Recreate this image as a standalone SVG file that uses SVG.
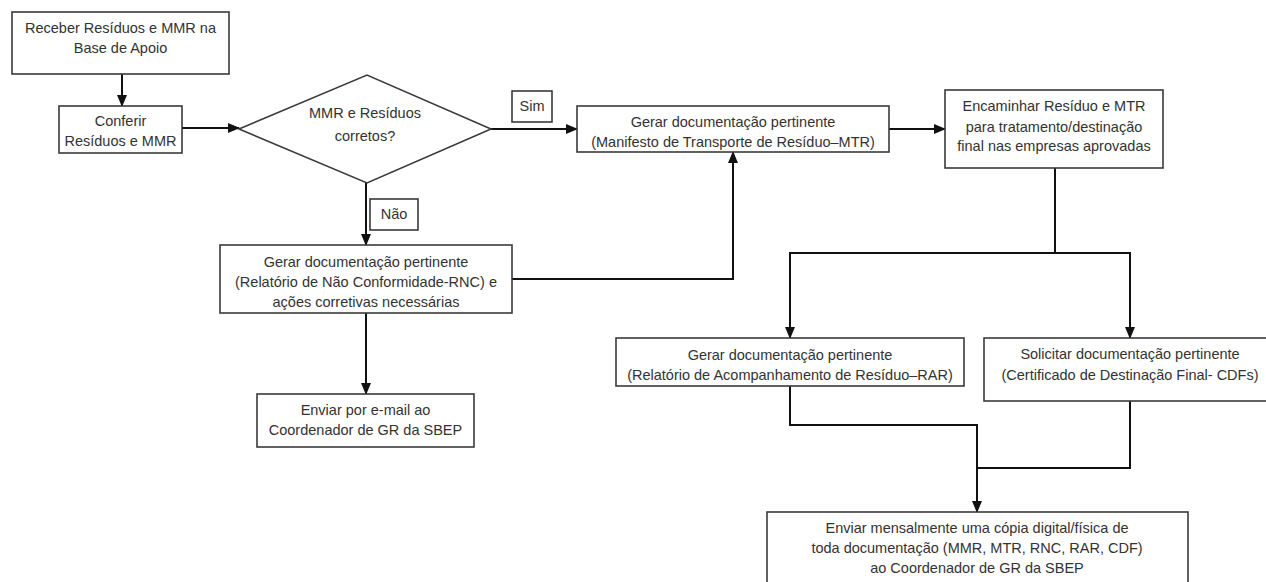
<svg xmlns="http://www.w3.org/2000/svg" width="1266" height="582" viewBox="0 0 1266 582">
<style>
.box{fill:#fff;stroke:#3a3a3a;stroke-width:1.6}
.t{font-family:"Liberation Sans",Arial,sans-serif;font-size:14.5px;fill:#333;text-anchor:middle}
.c{fill:none;stroke:#111;stroke-width:2}
</style>
<defs>
<marker id="ah" markerWidth="12" markerHeight="10" refX="11" refY="5" orient="auto" markerUnits="userSpaceOnUse">
<path d="M0,0 L12,5 L0,10 Z" fill="#111"/>
</marker>
</defs>
<rect width="1266" height="582" fill="#fff"/>
<g id="connectors">
<path class="c" d="M122,74 V106" marker-end="url(#ah)"/>
<path class="c" d="M182,128 H239" marker-end="url(#ah)"/>
<path class="c" d="M491,129 H577" marker-end="url(#ah)"/>
<path class="c" d="M889,129 H945" marker-end="url(#ah)"/>
<path class="c" d="M366,183 V245" marker-end="url(#ah)"/>
<path class="c" d="M512,279 H733 V152" marker-end="url(#ah)"/>
<path class="c" d="M366,313 V394" marker-end="url(#ah)"/>
<path class="c" d="M1055,168 V253"/>
<path class="c" d="M1055,253 H790 V338" marker-end="url(#ah)"/>
<path class="c" d="M1055,253 H1130 V338" marker-end="url(#ah)"/>
<path class="c" d="M790,386 V425 H977 V512" marker-end="url(#ah)"/>
<path class="c" d="M1130,401 V468 H977"/>
</g>
<g id="n-receber">
<rect class="box" x="12" y="12" width="217" height="62"/>
<text class="t" x="120.5" y="33">Receber Resíduos e MMR na</text>
<text class="t" x="120.5" y="53">Base de Apoio</text>
</g>
<g id="n-conferir">
<rect class="box" x="59" y="106" width="123" height="47"/>
<text class="t" x="120.5" y="126">Conferir</text>
<text class="t" x="120.5" y="146">Resíduos e MMR</text>
</g>
<g id="n-decisao">
<polygon class="box" points="239,129 367,75 491,129 367,183"/>
<text class="t" x="365" y="118">MMR e Resíduos</text>
<text class="t" x="365" y="141">corretos?</text>
</g>
<g id="l-sim">
<rect class="box" x="512" y="91" width="40" height="31"/>
<text class="t" x="532" y="111">Sim</text>
</g>
<g id="l-nao">
<rect class="box" x="370" y="199" width="48" height="31"/>
<text class="t" x="394" y="219">Não</text>
</g>
<g id="n-mtr">
<rect class="box" x="577" y="106" width="312" height="46"/>
<text class="t" x="733" y="127">Gerar documentação pertinente</text>
<text class="t" x="733" y="147">(Manifesto de Transporte de Resíduo–MTR)</text>
</g>
<g id="n-encaminhar">
<rect class="box" x="945" y="90" width="218" height="78"/>
<text class="t" x="1054" y="111">Encaminhar Resíduo e MTR</text>
<text class="t" x="1054" y="132">para tratamento/destinação</text>
<text class="t" x="1054" y="151">final nas empresas aprovadas</text>
</g>
<g id="n-rnc">
<rect class="box" x="220" y="245" width="292" height="68"/>
<text class="t" x="366" y="267">Gerar documentação pertinente</text>
<text class="t" x="366" y="287">(Relatório de Não Conformidade-RNC) e</text>
<text class="t" x="366" y="307">ações corretivas necessárias</text>
</g>
<g id="n-email">
<rect class="box" x="257" y="394" width="217" height="53"/>
<text class="t" x="365.5" y="415">Enviar por e-mail ao</text>
<text class="t" x="365.5" y="435">Coordenador de GR da SBEP</text>
</g>
<g id="n-rar">
<rect class="box" x="616" y="338" width="348" height="48"/>
<text class="t" x="790" y="360">Gerar documentação pertinente</text>
<text class="t" x="790" y="380">(Relatório de Acompanhamento de Resíduo–RAR)</text>
</g>
<g id="n-cdf">
<rect class="box" x="984" y="338" width="292" height="63"/>
<text class="t" x="1130" y="359">Solicitar documentação pertinente</text>
<text class="t" x="1130" y="380">(Certificado de Destinação Final- CDFs)</text>
</g>
<g id="n-enviar-mensal">
<rect class="box" x="767" y="512" width="421" height="90"/>
<text class="t" x="977" y="533">Enviar mensalmente uma cópia digital/física de</text>
<text class="t" x="977" y="553">toda documentação (MMR, MTR, RNC, RAR, CDF)</text>
<text class="t" x="977" y="573">ao Coordenador de GR da SBEP</text>
</g>
</svg>
